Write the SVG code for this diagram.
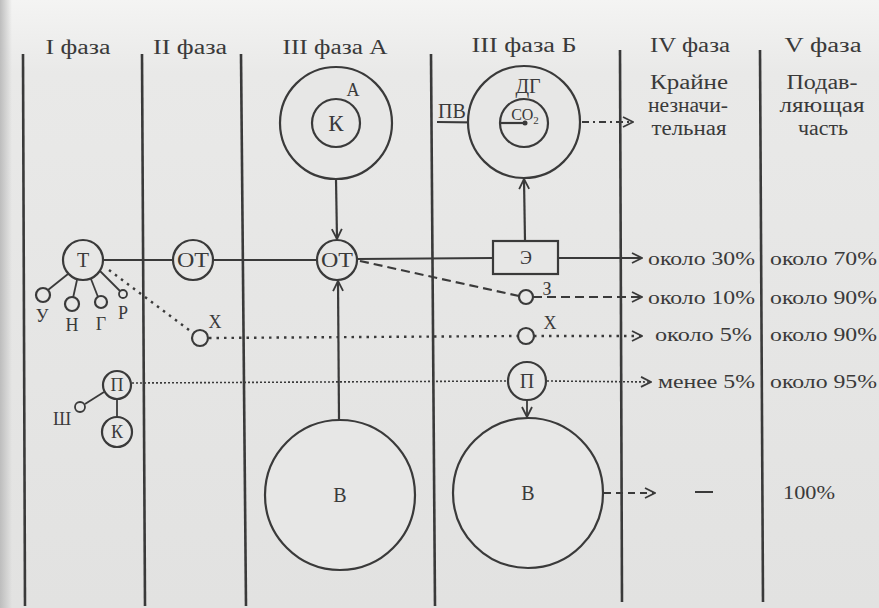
<svg xmlns="http://www.w3.org/2000/svg" width="879" height="608" viewBox="0 0 879 608">
  <defs>
    <linearGradient id="paper" x1="0" y1="0" x2="0" y2="1">
      <stop offset="0" stop-color="#f4f4f3"/>
      <stop offset="0.12" stop-color="#e9e9e8"/>
      <stop offset="1" stop-color="#e2e2e1"/>
    </linearGradient>
    <linearGradient id="edge" x1="0" y1="0" x2="1" y2="0">
      <stop offset="0" stop-color="#bdbdbd"/>
      <stop offset="1" stop-color="#bdbdbd" stop-opacity="0"/>
    </linearGradient>
    <marker id="arrow" viewBox="0 0 12 12" refX="11" refY="6" markerWidth="12" markerHeight="12" orient="auto" markerUnits="userSpaceOnUse">
      <path d="M1,1 L11,6 L1,11" fill="none" stroke="#3a3a3a" stroke-width="1.8"/>
    </marker>
  </defs>
  <style>
    text { font-family: "Liberation Serif", "DejaVu Serif", serif; fill: #3a3a3a; }
    .head { font-size: 20px; text-anchor: middle; }
    .sub { font-size: 20px; text-anchor: middle; }
    .pct { font-size: 19px; }
    .lbl { font-size: 20px; text-anchor: middle; }
    .sm { font-size: 18px; text-anchor: middle; }
    .phase { stroke: #3a3a3a; stroke-width: 2.6; fill: none; }
    .node { fill: #e7e7e6; stroke: #3a3a3a; stroke-width: 2.2; }
    .solid { stroke: #3a3a3a; stroke-width: 2.2; fill: none; }
    .thin { stroke: #3a3a3a; stroke-width: 1.8; fill: none; }
    .dash { stroke: #3a3a3a; stroke-width: 2.2; fill: none; stroke-dasharray: 9 5; }
    .dot { stroke: #3a3a3a; stroke-width: 2.4; fill: none; stroke-dasharray: 2.5 5; }
    .fine { stroke: #3a3a3a; stroke-width: 1.6; fill: none; stroke-dasharray: 2 2; }
    .dashdot { stroke: #3a3a3a; stroke-width: 2; fill: none; stroke-dasharray: 7 4 2 4; }
  </style>

  <!-- paper -->
  <rect x="0" y="0" width="879" height="608" fill="url(#paper)"/>
  <rect x="0" y="0" width="12" height="608" fill="url(#edge)"/>

  <!-- phase separators -->
  <g id="separators">
    <line class="phase" x1="23" y1="54" x2="25" y2="606"/>
    <line class="phase" x1="142" y1="54" x2="145" y2="606"/>
    <line class="phase" x1="241" y1="54" x2="246" y2="606"/>
    <line class="phase" x1="431" y1="54" x2="435" y2="606"/>
    <line class="phase" x1="620" y1="50" x2="622" y2="602"/>
    <line class="phase" x1="760" y1="50" x2="763" y2="602"/>
  </g>

  <!-- column headings -->
  <g id="headings">
    <text class="head" x="78" y="54" textLength="65" lengthAdjust="spacingAndGlyphs">I фаза</text>
    <text class="head" x="190" y="54" textLength="74" lengthAdjust="spacingAndGlyphs">II фаза</text>
    <text class="head" x="335" y="54" textLength="105" lengthAdjust="spacingAndGlyphs">III фаза А</text>
    <text class="head" x="524" y="52" textLength="105" lengthAdjust="spacingAndGlyphs">III фаза Б</text>
    <text class="head" x="690" y="52" textLength="80" lengthAdjust="spacingAndGlyphs">IV фаза</text>
    <text class="head" x="823" y="52" textLength="77" lengthAdjust="spacingAndGlyphs">V фаза</text>
    <text class="sub" x="689" y="89" textLength="78" lengthAdjust="spacingAndGlyphs">Крайне</text>
    <text class="sub" x="688" y="112" textLength="80" lengthAdjust="spacingAndGlyphs">незначи-</text>
    <text class="sub" x="689" y="135" textLength="75" lengthAdjust="spacingAndGlyphs">тельная</text>
    <text class="sub" x="822" y="89" textLength="71" lengthAdjust="spacingAndGlyphs">Подав-</text>
    <text class="sub" x="822" y="112" textLength="85" lengthAdjust="spacingAndGlyphs">ляющая</text>
    <text class="sub" x="823" y="135" textLength="50" lengthAdjust="spacingAndGlyphs">часть</text>
  </g>

  <!-- connectors -->
  <g id="connectors">
    <!-- main horizontal flow -->
    <line class="solid" x1="103" y1="260" x2="173" y2="260"/>
    <line class="solid" x1="213" y1="260" x2="317" y2="260"/>
    <line class="solid" x1="357" y1="259" x2="493" y2="258"/>
    <line class="solid" x1="558" y1="258" x2="642" y2="258" marker-end="url(#arrow)"/>
    <!-- A down to OT -->
    <line class="solid" x1="336" y1="179" x2="337" y2="239" marker-end="url(#arrow)"/>
    <!-- B (III A) up to OT -->
    <line class="solid" x1="339" y1="420" x2="338" y2="281" marker-end="url(#arrow)"/>
    <!-- Э up to ДГ -->
    <line class="solid" x1="525" y1="241" x2="524" y2="179" marker-end="url(#arrow)"/>
    <!-- ПВ into CO2 -->
    <line class="solid" x1="437" y1="122" x2="523" y2="123"/>
    <!-- ДГ out -->
    <line class="dashdot" x1="582" y1="122" x2="633" y2="122" marker-end="url(#arrow)"/>
    <!-- T to satellites -->
    <line class="thin" x1="68" y1="274" x2="48" y2="290"/>
    <line class="thin" x1="77" y1="280" x2="73" y2="298"/>
    <line class="thin" x1="91" y1="279" x2="98" y2="297"/>
    <line class="thin" x1="100" y1="271" x2="120" y2="291"/>
    <!-- OT to З -->
    <line class="dash" x1="360" y1="261" x2="519" y2="296"/>
    <line class="dash" x1="533" y1="297" x2="642" y2="297" marker-end="url(#arrow)"/>
    <!-- T to X -->
    <line class="dot" x1="109" y1="270" x2="193" y2="333"/>
    <line class="dot" x1="209" y1="338" x2="518" y2="336"/>
    <line class="dot" x1="534" y1="336" x2="642" y2="336" marker-end="url(#arrow)"/>
    <!-- П across -->
    <line class="fine" x1="132" y1="383" x2="507" y2="381"/>
    <line class="fine" x1="547" y1="381" x2="651" y2="382" marker-end="url(#arrow)"/>
    <!-- П satellites -->
    <line class="thin" x1="85" y1="404" x2="104" y2="392"/>
    <line class="thin" x1="117" y1="399" x2="117" y2="417"/>
    <!-- П down to B -->
    <line class="thin" x1="527" y1="400" x2="527" y2="417" marker-end="url(#arrow)"/>
    <!-- B out -->
    <line class="dash" x1="604" y1="493" x2="655" y2="493" marker-end="url(#arrow)" style="stroke-dasharray:7 5"/>
  </g>

  <!-- I phase -->
  <g id="node-T">
    <circle class="node" cx="83" cy="260" r="20"/>
    <text class="lbl" x="83" y="267">Т</text>
  </g>
  <g id="node-U">
    <circle class="node" cx="43" cy="295" r="7"/>
    <text class="sm" x="42" y="322">У</text>
  </g>
  <g id="node-N">
    <circle class="node" cx="72" cy="304" r="7"/>
    <text class="sm" x="72" y="331">Н</text>
  </g>
  <g id="node-G">
    <circle class="node" cx="101" cy="302" r="6"/>
    <text class="sm" x="101" y="330">Г</text>
  </g>
  <g id="node-R">
    <circle class="node" cx="123" cy="294" r="4" style="stroke-width:1.8"/>
    <text class="sm" x="123" y="319">Р</text>
  </g>
  <g id="node-X1">
    <circle class="node" cx="200" cy="338" r="8"/>
    <text class="sm" x="215" y="328">Х</text>
  </g>
  <g id="node-P1">
    <circle class="node" cx="117" cy="385" r="14"/>
    <text class="sm" x="117" y="391">П</text>
  </g>
  <g id="node-Sh">
    <circle class="node" cx="80" cy="407" r="5" style="stroke-width:1.8"/>
    <text class="sm" x="62" y="425">Ш</text>
  </g>
  <g id="node-K1">
    <circle class="node" cx="117" cy="432" r="15"/>
    <text class="sm" x="117" y="438">К</text>
  </g>

  <!-- II phase -->
  <g id="node-OT2">
    <circle class="node" cx="193" cy="260" r="20"/>
    <text class="lbl" x="193" y="267" textLength="32" lengthAdjust="spacingAndGlyphs">ОТ</text>
  </g>

  <!-- III phase A -->
  <g id="node-A">
    <circle class="node" cx="336" cy="123" r="56"/>
    <circle class="node" cx="336" cy="123" r="24"/>
    <text class="sm" x="353" y="96">А</text>
    <text class="lbl" x="336" y="131" style="font-size:23px">К</text>
  </g>
  <g id="node-OT3">
    <circle class="node" cx="337" cy="260" r="20"/>
    <text class="lbl" x="337" y="267" textLength="32" lengthAdjust="spacingAndGlyphs">ОТ</text>
  </g>
  <g id="node-B1">
    <circle class="node" cx="340" cy="495" r="75"/>
    <text class="lbl" x="340" y="502">В</text>
  </g>

  <!-- III phase B -->
  <g id="node-DG">
    <circle class="node" cx="524" cy="122" r="56"/>
    <circle class="node" cx="524" cy="123" r="24"/>
    <line class="solid" x1="500" y1="123" x2="524" y2="123"/>
    <circle cx="525" cy="123" r="2.5" fill="#3a3a3a"/>
    <text class="lbl" x="528" y="93">ДГ</text>
    <text class="sm" x="525" y="120" style="font-size:16px">СО<tspan dy="4" style="font-size:11px">2</tspan></text>
    <text class="lbl" x="452" y="118">ПВ</text>
  </g>
  <g id="node-E">
    <rect x="493" y="241" width="65" height="33" fill="#e7e7e6" stroke="#3a3a3a" stroke-width="2.2"/>
    <text class="sm" x="526" y="264">Э</text>
  </g>
  <g id="node-Z">
    <circle class="node" cx="526" cy="297" r="7"/>
    <text class="sm" x="547" y="295">З</text>
  </g>
  <g id="node-X2">
    <circle class="node" cx="526" cy="336" r="8"/>
    <text class="sm" x="550" y="329">Х</text>
  </g>
  <g id="node-P2">
    <circle class="node" cx="527" cy="381" r="19"/>
    <text class="lbl" x="527" y="388">П</text>
  </g>
  <g id="node-B2">
    <circle class="node" cx="528" cy="493" r="75"/>
    <text class="lbl" x="528" y="500">В</text>
  </g>

  <!-- IV and V phase shares -->
  <g id="shares">
    <text class="pct" x="648" y="265" textLength="107" lengthAdjust="spacingAndGlyphs">около 30%</text>
    <text class="pct" x="770" y="265" textLength="107" lengthAdjust="spacingAndGlyphs">около 70%</text>
    <text class="pct" x="648" y="304" textLength="107" lengthAdjust="spacingAndGlyphs">около 10%</text>
    <text class="pct" x="770" y="304" textLength="107" lengthAdjust="spacingAndGlyphs">около 90%</text>
    <text class="pct" x="655" y="341" textLength="97" lengthAdjust="spacingAndGlyphs">около 5%</text>
    <text class="pct" x="770" y="341" textLength="107" lengthAdjust="spacingAndGlyphs">около 90%</text>
    <text class="pct" x="658" y="388" textLength="97" lengthAdjust="spacingAndGlyphs">менее 5%</text>
    <text class="pct" x="770" y="388" textLength="107" lengthAdjust="spacingAndGlyphs">около 95%</text>
    <line x1="695" y1="492" x2="713" y2="492" stroke="#3a3a3a" stroke-width="2"/>
    <text class="pct" x="809" y="499" text-anchor="middle" textLength="52" lengthAdjust="spacingAndGlyphs">100%</text>
  </g>
</svg>
